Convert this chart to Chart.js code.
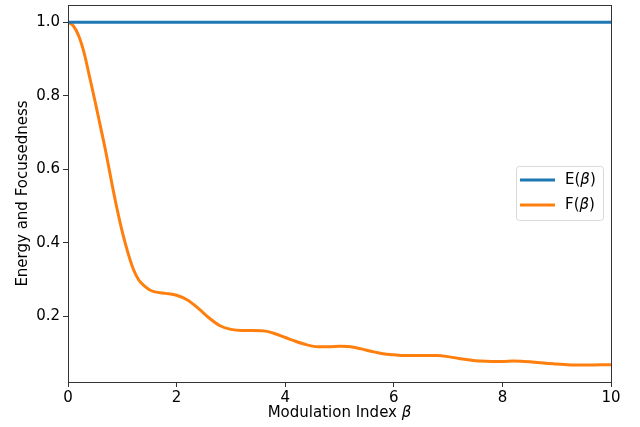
<!DOCTYPE html>
<html>
<head>
<meta charset="utf-8">
<script src="https://cdn.jsdelivr.net/npm/chart.js@4.4.1/dist/chart.umd.min.js"></script>
<style>
    html, body { margin: 0; padding: 0; background: #fff; }
    #chart { display: block; }
</style>
</head>
<body>
<canvas id="chart" width="640" height="427"></canvas>
<script>
// modulation index values (x)
const beta = [0, 0.1, 0.2, 0.3, 0.4, 0.5, 0.6, 0.7, 0.8, 0.9, 1.0, 1.1, 1.2, 1.3, 1.4, 1.5, 1.6,
    1.8, 2.0, 2.2, 2.4, 2.6, 2.8, 3.0, 3.2, 3.4, 3.6, 3.8, 4.0, 4.2, 4.4, 4.6, 4.8, 5.0,
    5.2, 5.4, 5.6, 5.8, 6.0, 6.2, 6.4, 6.6, 6.8, 7.0, 7.2, 7.4, 7.6, 7.8, 8.0, 8.2, 8.4,
    8.6, 8.8, 9.0, 9.2, 9.4, 9.6, 9.8, 10];

// energy E(beta) - constant
const energy = beta.map(() => 1.0);

// focusedness F(beta)
const focus = [1.0, 0.99, 0.962, 0.915, 0.85, 0.784, 0.715, 0.645, 0.568, 0.495, 0.43, 0.375, 0.33, 0.30, 0.284, 0.273, 0.267,
    0.263, 0.258, 0.245, 0.222, 0.196, 0.175, 0.165, 0.162, 0.162, 0.161, 0.154, 0.143, 0.132, 0.123, 0.118, 0.118, 0.119,
    0.118, 0.112, 0.105, 0.099, 0.096, 0.094, 0.094, 0.094, 0.094, 0.091, 0.086, 0.082, 0.079, 0.078, 0.078, 0.079, 0.078,
    0.076, 0.073, 0.071, 0.069, 0.068, 0.068, 0.069, 0.069];

const xTicks = [0, 2, 4, 6, 8, 10];
const yTicks = [0.2, 0.4, 0.6, 0.8, 1.0];

const FONT = "'DejaVu Sans', sans-serif";
const BLUE = '#1f77b4';
const ORANGE = '#ff7f0e';

// draws text pieces, some of them italic (for the beta symbol)
function drawRich(ctx, parts, x, y, size, align) {
    let total = 0;
    parts.forEach(p => {
        ctx.font = (p.italic ? 'italic ' : '') + size + 'px ' + FONT;
        p.w = ctx.measureText(p.t).width;
        total += p.w;
    });
    let cx = align === 'center' ? x - total / 2 : x;
    parts.forEach(p => {
        ctx.font = (p.italic ? 'italic ' : '') + size + 'px ' + FONT;
        ctx.textAlign = 'left';
        ctx.fillText(p.t, cx, y);
        cx += p.w;
    });
}

// рамка, подпись оси X и легенда
const framePlugin = {
    id: 'frame',
    afterDraw(chart) {
        const {ctx, chartArea: a} = chart;
        ctx.save();
        ctx.strokeStyle = '#333';
        ctx.lineWidth = 1;
        ctx.strokeRect(a.left + 0.5, a.top + 0.5, a.right - a.left, a.bottom - a.top);

        ctx.fillStyle = '#000';
        ctx.textBaseline = 'middle';
        drawRich(ctx, [{t: 'Modulation Index '}, {t: 'β', italic: true}], (a.left + a.right) / 2, 413, 15, 'center');

        // legend box
        const lx = 516, ly = 166, lw = 87, lh = 54;
        ctx.fillStyle = 'rgba(255,255,255,0.85)';
        ctx.strokeStyle = '#d9d9d9';
        ctx.beginPath();
        ctx.roundRect(lx + 0.5, ly + 0.5, lw, lh, 3);
        ctx.fill();
        ctx.stroke();

        const items = [{label: 'E', color: BLUE}, {label: 'F', color: ORANGE}];
        items.forEach((it, i) => {
            const yy = ly + 14 + i * 25;
            ctx.strokeStyle = it.color;
            ctx.lineWidth = 3;
            ctx.beginPath();
            ctx.moveTo(lx + 4, yy);
            ctx.lineTo(lx + 39, yy);
            ctx.stroke();
            ctx.fillStyle = '#000';
            drawRich(ctx, [{t: it.label + '('}, {t: 'β', italic: true}, {t: ')'}], lx + 49, yy, 15, 'left');
        });
        ctx.restore();
    }
};

const ctx = document.getElementById('chart');

new Chart(ctx, {
    type: 'line',
    data: {
        datasets: [
            {
                label: 'E(β)',
                data: beta.map((b, i) => ({x: b, y: energy[i]})),
                borderColor: BLUE,
                borderWidth: 3,
                pointRadius: 0,
                tension: 0
            },
            {
                label: 'F(β)',
                data: beta.map((b, i) => ({x: b, y: focus[i]})),
                borderColor: ORANGE,
                borderWidth: 3,
                pointRadius: 0,
                cubicInterpolationMode: 'monotone'
            }
        ]
    },
    options: {
        responsive: false,
        animation: false,
        layout: {padding: {left: 0, right: 29, top: 5, bottom: 0}},
        plugins: {
            legend: {display: false},
            tooltip: {enabled: false}
        },
        scales: {
            x: {
                type: 'linear',
                min: 0,
                max: 10,
                afterBuildTicks: (s) => { s.ticks = xTicks.map(v => ({value: v})); },
                afterFit: (s) => { s.height = 45; },
                grid: {drawOnChartArea: false, drawTicks: true, tickLength: 5, color: '#333'},
                border: {color: '#333'},
                ticks: {color: '#000', font: {family: FONT, size: 15}, padding: 2, maxRotation: 0}
            },
            y: {
                min: 0.022,
                max: 1.047,
                afterBuildTicks: (s) => { s.ticks = yTicks.map(v => ({value: v})); },
                afterFit: (s) => {
                    s.width = 68;
                    s.paddingTop = 0;
                    s.paddingBottom = 0;
                },
                grid: {drawOnChartArea: false, drawTicks: true, tickLength: 5, color: '#333'},
                border: {color: '#333'},
                ticks: {
                    color: '#000',
                    font: {family: FONT, size: 15},
                    padding: 3,
                    callback: (v) => v.toFixed(1)
                },
                title: {
                    display: true,
                    text: 'Energy and Focusedness',
                    color: '#000',
                    font: {family: FONT, size: 15},
                    padding: {top: 14, bottom: 4}
                }
            }
        }
    },
    plugins: [framePlugin]
});
</script>
</body>
</html>
